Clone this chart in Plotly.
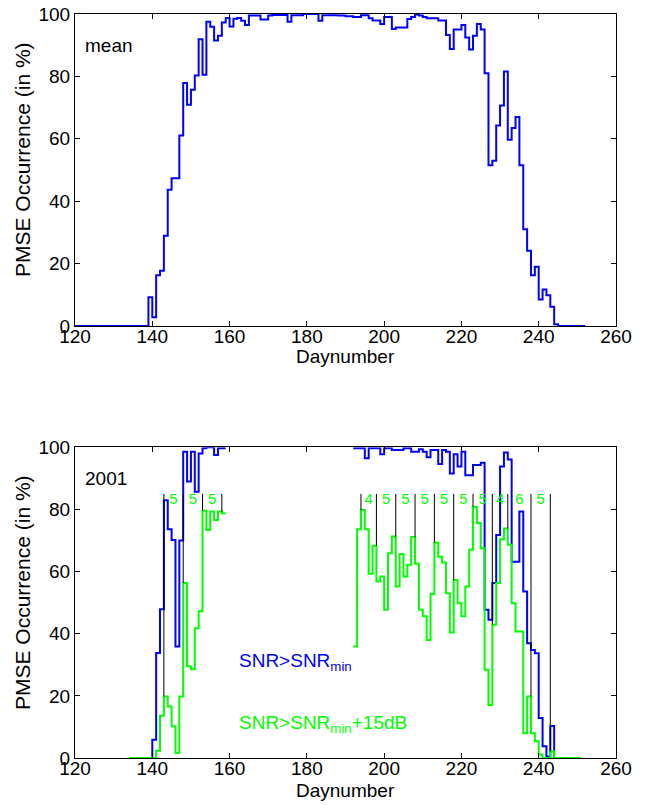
import plotly.graph_objects as go

# ---------------- data ----------------
# Top panel: mean PMSE occurrence, one value per day starting at day 120
mean_start = 120
mean_vals = [0, 0, 0, 0, 0, 0, 0, 0, 0, 0, 0, 0, 0, 0, 0, 0, 0, 0, 0,          # 120-138
             9.2, 2.8, 16.3, 17.7, 28.9, 43.7, 47.4, 47.4, 61.1, 77.9,         # 139-148
             70.9, 75.7, 80.3, 91.9, 80.5, 97.5, 95.9, 91.5, 93.0, 97.3,       # 149-158
             98.7, 96.0, 98.5, 98.7, 97.8, 96.5, 99.5, 99.5, 99.5, 98.2,       # 159-168
             98.2, 99.5, 99.7, 99.7, 99.7, 99.7, 97.5, 99.6, 99.6, 99.6,       # 169-178
             100, 100, 100, 100, 97.8, 99.6, 99.6, 99.6, 99.6, 99.5,           # 179-188
             99.5, 99.3, 99.3, 99.0, 99.0, 99.6, 99.6, 98.6, 97.9, 97.9,       # 189-198
             96.8, 99.0, 99.0, 95.2, 95.7, 95.7, 95.7, 98.4, 99.0, 99.8,       # 199-208
             99.5, 99.0, 98.6, 98.6, 98.6, 97.9, 97.9, 93.3, 88.8, 95.0,       # 209-218
             95.0, 96.5, 92.5, 88.6, 93.0, 96.8, 95.0, 81.0, 51.5, 53.0,       # 219-228
             64.3, 70.7, 81.6, 59.7, 63.5, 67.0, 51.5, 31.0, 24.1, 16.3,       # 229-238
             19.0, 8.5, 11.7, 9.9, 6.2, 0.6, 0, 0, 0, 0, 0, 0, 0]              # 239-250

# Bottom panel (2001): SNR > SNRmin (blue), two segments
blue1_start = 139
blue1_vals = [0, 5.9, 33.8, 47.9, 83.0, 73.6, 70.2, 35.9, 70.0, 98.6,          # 139-148
              89.0, 98.6, 85.7, 98.0, 99.7, 100, 100, 97.5, 99.7, 99.7]        # 149-158
blue2_start = 192
blue2_vals = [99.7, 99.7, 99.7, 96.5, 99.7, 99.7, 99.7, 97.8, 99.7, 99.7,      # 192-201
              99.1, 99.1, 99.1, 99.7, 99.7, 98.6, 98.6, 99.4, 98.6, 96.8,      # 202-211
              99.1, 99.1, 94.6, 99.1, 98.6, 91.6, 97.8, 93.8, 98.6, 91.0,      # 212-221
              91.0, 94.3, 94.3, 95.0, 47.7, 44.5, 56.3, 71.8, 93.8, 98.3,      # 222-231
              96.1, 63.2, 63.2, 79.3, 53.6, 36.9, 34.8, 33.7, 12.9, 3.8,       # 232-241
              0.5, 10.3, 0]                                                    # 242-244

# Bottom panel: SNR > SNRmin + 15 dB (green), two segments
green1_start = 134
green1_vals = [0, 0, 0, 0, 0, 0, 0, 2.3, 13.6, 19.8,                           # 134-143
               16.6, 10.2, 1.6, 19.8, 56.3, 29.5, 28.6, 41.8, 47.2, 79.6,      # 144-153
               73.4, 79.3, 76.6, 79.3, 78.8]                                   # 154-158
green2_start = 192
green2_vals = [35.9, 73.6, 79.8, 73.6, 59.3, 68.3, 56.8, 58.4, 47.7, 65.9,     # 192-201
               71.3, 55.2, 65.7, 58.4, 62.2, 71.1, 62.5, 47.7, 45.6, 38.0,     # 202-211
               52.8, 69.3, 64.8, 62.9, 53.0, 40.4, 57.3, 49.8, 45.6, 55.2,     # 212-221
               67.0, 80.9, 75.6, 67.5, 28.4, 17.1, 42.9, 56.3, 70.4, 73.9,     # 222-231
               68.6, 49.8, 40.7, 40.7, 8.0, 19.8, 8.0, 5.4, 1.1, 0,            # 232-241
               0, 2.1, 0, 0, 0, 0, 0, 0, 0]                                    # 242-250

# Day boundaries of the interval markers (black lines)
marker_groups = [[143, 148, 153, 158],
                 [194, 198, 203, 208, 213, 218, 223, 228, 232, 238, 243]]
marker_top = 85

x_ticks = [120, 140, 160, 180, 200, 220, 240, 260]
y_ticks = [0, 20, 40, 60, 80, 100]

BLUE = "#0000ff"
GREEN = "#00ff00"
FONT = "Liberation Sans, Arial, Helvetica, sans-serif"


def stairs(start, vals):
    xs = list(range(start, start + len(vals) + 1))
    ys = list(vals) + [vals[-1]]
    return xs, ys


def value_at(day, start, vals):
    i = day - start
    if 0 <= i < len(vals):
        return vals[i]
    return 0


fig = go.Figure()

# top panel
mx, my = stairs(mean_start, mean_vals)
fig.add_trace(go.Scatter(x=mx, y=my, mode="lines", line=dict(color=BLUE, width=2, shape="hv"),
                         xaxis="x", yaxis="y", showlegend=False))

# bottom panel
for st, vals, col in [(blue1_start, blue1_vals, BLUE), (blue2_start, blue2_vals, BLUE),
                      (green1_start, green1_vals, GREEN), (green2_start, green2_vals, GREEN)]:
    sx, sy = stairs(st, vals)
    fig.add_trace(go.Scatter(x=sx, y=sy, mode="lines", line=dict(color=col, width=2, shape="hv"),
                             xaxis="x2", yaxis="y2", showlegend=False))

# black interval markers + green labels
lx, ly = [], []
lab_x, lab_t = [], []
for grp in marker_groups:
    for d in grp:
        g_prev = max(value_at(d - 1, green1_start, green1_vals), value_at(d - 1, green2_start, green2_vals))
        g_here = max(value_at(d, green1_start, green1_vals), value_at(d, green2_start, green2_vals))
        lx += [d, d, None]
        ly += [marker_top, max(g_prev, g_here), None]
    for a, b in zip(grp[:-1], grp[1:]):
        lab_x.append((a + b) / 2)
        lab_t.append(str(b - a))
fig.add_trace(go.Scatter(x=lx, y=ly, mode="lines", line=dict(color="black", width=1),
                         xaxis="x2", yaxis="y2", showlegend=False))
fig.add_trace(go.Scatter(x=lab_x, y=[83] * len(lab_x), mode="text", text=lab_t,
                         textfont=dict(color=GREEN, size=15, family=FONT),
                         xaxis="x2", yaxis="y2", showlegend=False))

axis_common = dict(range=[120, 260], tickvals=x_ticks, ticks="inside", ticklen=5, tickwidth=1,
                   tickcolor="black", showline=True, linecolor="black", linewidth=1,
                   mirror="allticks", showgrid=False, zeroline=False, automargin=False,
                   ticklabelstandoff=-7, ticklabeloverflow="allow",
                   tickfont=dict(size=19, family=FONT, color="black"))
yaxis_common = dict(range=[0, 100], tickvals=y_ticks, ticks="inside", ticklen=5, tickwidth=1,
                    tickcolor="black", showline=True, linecolor="black", linewidth=1,
                    mirror="allticks", showgrid=False, zeroline=False, automargin=False,
                    ticklabeloverflow="allow",
                    tickfont=dict(size=19, family=FONT, color="black"))

# the page adds an 8 px body margin, so the figure is sized to fill the rest of 646x805
fig.update_layout(
    width=638, height=797,
    margin=dict(l=67, r=30, t=6, b=47, autoexpand=False),
    paper_bgcolor="white", plot_bgcolor="white",
    font=dict(family=FONT, size=19, color="black"),
    xaxis=dict(domain=[0, 1], anchor="y", **axis_common),
    yaxis=dict(domain=[0.5806, 1], anchor="x", **yaxis_common),
    xaxis2=dict(domain=[0, 1], anchor="y2", **axis_common),
    yaxis2=dict(domain=[0, 0.4176], anchor="x2", **yaxis_common),
)


def py(page_y):
    return (758 - page_y) / 744


def px(page_x):
    return (page_x - 75) / 541


ann = []
for ypix_title, ycen in [(356, 160), (790, 593)]:
    ann.append(dict(text="Daynumber", xref="paper", yref="paper", x=0.5,
                    y=py(ypix_title), xanchor="center", yanchor="middle",
                    showarrow=False, font=dict(size=19, family=FONT)))
    ann.append(dict(text="PMSE Occurrence (in %)", xref="paper", yref="paper",
                    x=px(22), y=py(ycen), textangle=-90,
                    xanchor="center", yanchor="middle", showarrow=False,
                    font=dict(size=21, family=FONT)))
ann.append(dict(text="mean", xref="x", yref="y", x=122, y=90, xanchor="left", yanchor="middle",
                showarrow=False, font=dict(size=19, family=FONT)))
ann.append(dict(text="2001", xref="x2", yref="y2", x=122, y=90, xanchor="left", yanchor="middle",
                showarrow=False, font=dict(size=19, family=FONT)))
ann.append(dict(text="SNR>SNR<sub>min</sub>", xref="x2", yref="y2", x=162, y=31,
                xanchor="left", yanchor="middle", showarrow=False,
                font=dict(size=19, family=FONT, color=BLUE)))
ann.append(dict(text="SNR>SNR<sub>min</sub>+15dB", xref="x2", yref="y2", x=162, y=11,
                xanchor="left", yanchor="middle", showarrow=False,
                font=dict(size=19, family=FONT, color=GREEN)))
fig.update_layout(annotations=ann)

fig.write_html("out.html")
